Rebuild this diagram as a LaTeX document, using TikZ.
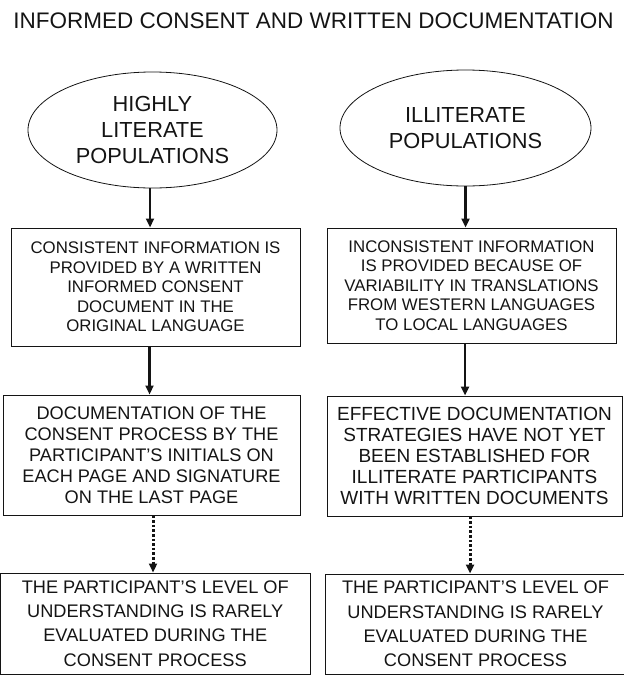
\documentclass[tikz,border=0pt]{standalone}
\usepackage{fontspec}
\setmainfont{Liberation Sans}
\usetikzlibrary{shapes.geometric,arrows.meta}
\definecolor{ink}{HTML}{141414}
\tikzset{
  popu/.style={ellipse,draw=ink,line width=0.8pt,inner sep=0pt,text=ink,align=center,
    font=\fontsize{21.8}{26}\selectfont},
  boxA/.style={draw=ink,line width=1pt,inner sep=0pt,text=ink,align=center,
    font=\fontsize{16.8}{19.6}\selectfont},
  boxB/.style={draw=ink,line width=1pt,inner sep=0pt,text=ink,align=center,
    font=\fontsize{18.2}{21}\selectfont},
  boxC/.style={draw=ink,line width=1pt,inner sep=0pt,text=ink,align=center,
    font=\fontsize{18.2}{24.2}\selectfont},
  arr/.style={draw=ink,line width=2.8pt,-{Triangle[width=8pt,length=9pt]}},
  darr/.style={draw=ink,line width=3pt,dash pattern=on 2.6pt off 2pt,-{Triangle[width=8pt,length=9pt]}},
}
\begin{document}
\begin{tikzpicture}[x=1pt,y=-1pt]
\useasboundingbox (0,0) rectangle (624,675);
\node[anchor=base,text=ink,font=\fontsize{22.5}{27}\selectfont] (title) at (313.5,28)
  {INFORMED CONSENT AND WRITTEN DOCUMENTATION};

\node[popu,minimum width=249pt,minimum height=116pt] (e1) at (152.5,130)
  {HIGHLY\\LITERATE\\POPULATIONS};
\node[popu,minimum width=251pt,minimum height=116pt] (e2) at (465.5,128)
  {ILLITERATE\\POPULATIONS};

\node[boxA,minimum width=289pt,minimum height=118pt] (b1) at (155.5,287)
  {CONSISTENT INFORMATION IS\\PROVIDED BY A WRITTEN\\INFORMED CONSENT\\DOCUMENT IN THE\\ORIGINAL LANGUAGE};
\node[boxA,minimum width=289pt,minimum height=115pt] (b2) at (471.5,285.5)
  {INCONSISTENT INFORMATION\\IS PROVIDED BECAUSE OF\\VARIABILITY IN TRANSLATIONS\\FROM WESTERN LANGUAGES\\TO LOCAL LANGUAGES};

\node[boxB,minimum width=297pt,minimum height=120pt] (b3) at (151.5,455)
  {DOCUMENTATION OF THE\\CONSENT PROCESS BY THE\\PARTICIPANT’S INITIALS ON\\EACH PAGE AND SIGNATURE\\ON THE LAST PAGE};
\node[boxB,font=\fontsize{19}{21}\selectfont,minimum width=295pt,minimum height=120pt] (b4) at (474.5,456)
  {EFFECTIVE DOCUMENTATION\\STRATEGIES HAVE NOT YET\\BEEN ESTABLISHED FOR\\ILLITERATE PARTICIPANTS\\WITH WRITTEN DOCUMENTS};

\node[boxC,minimum width=309.5pt,minimum height=101pt] (b5) at (155.25,623.5)
  {THE PARTICIPANT’S LEVEL OF\\UNDERSTANDING IS RARELY\\EVALUATED DURING THE\\CONSENT PROCESS};
\node[boxC,minimum width=300pt,minimum height=100pt] (b6) at (475.5,624)
  {THE PARTICIPANT’S LEVEL OF\\UNDERSTANDING IS RARELY\\EVALUATED DURING THE\\CONSENT PROCESS};

\draw[arr] ([xshift=-2.5pt]e1.south) -- ([xshift=-2.5pt]e1.south |- b1.north);
\draw[arr] (e2.south) -- (e2.south |- b2.north);
\draw[arr] ([xshift=-6pt]b1.south) -- ([xshift=-6pt]b1.south |- b3.north);
\draw[arr] ([xshift=-6.5pt]b2.south) -- ([xshift=-6.5pt]b2.south |- b4.north);
\draw[darr] ([xshift=1.5pt]b3.south) -- ([xshift=1.5pt]b3.south |- b5.north);
\draw[darr] ([xshift=-4.5pt]b4.south) -- ([xshift=-4.5pt]b4.south |- b6.north);
\end{tikzpicture}
\end{document}
